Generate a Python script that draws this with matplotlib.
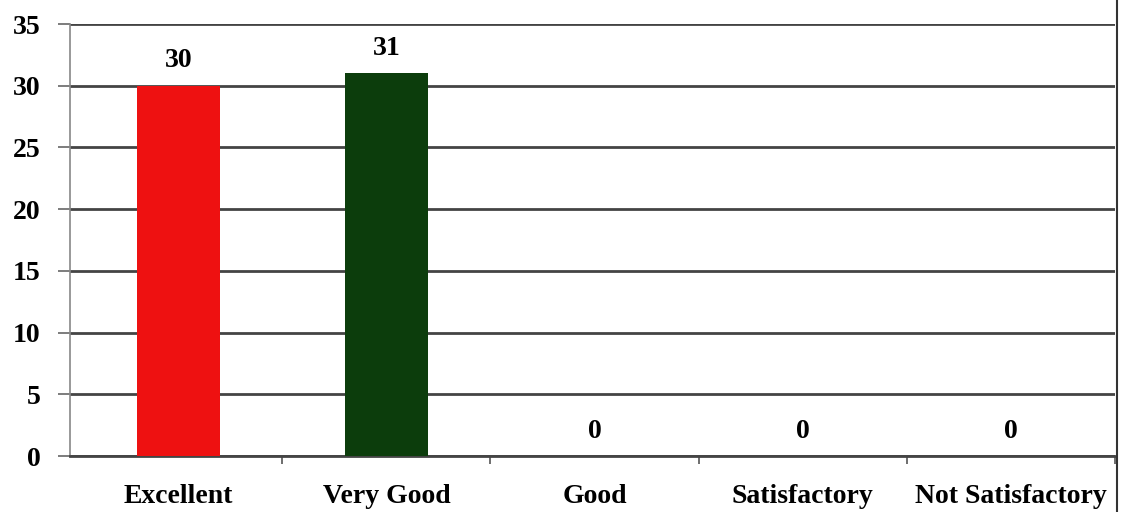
import matplotlib
matplotlib.use("Agg")
import matplotlib.pyplot as plt
from matplotlib.lines import Line2D

plt.rcParams['font.family'] = 'Liberation Serif'
plt.rcParams['font.weight'] = 'bold'

categories = ["Excellent", "Very Good", "Good", "Satisfactory", "Not Satisfactory"]
counts = [30, 31, 0, 0, 0]
bar_colors = ["#ee1111", "#0c3d0c", "#888888", "#888888", "#888888"]
y_ticks = [0, 5, 10, 15, 20, 25, 30, 35]

fig = plt.figure(figsize=(11.28, 5.12), dpi=100)
ax = fig.add_axes([70 / 1128, 1 - 456 / 512, (1115 - 70) / 1128, (456 - 24) / 512])

x = range(len(categories))
bars = ax.bar(x, counts, width=0.4, color=bar_colors, zorder=3)
ax.bar_label(bars, padding=9, fontsize=20, fontweight='bold')

ax.set_xlim(-0.52, len(categories) - 0.5)
ax.set_ylim(0, 35)
ax.set_yticks(y_ticks)
ax.set_yticklabels([str(t) for t in y_ticks], fontsize=20, fontweight='bold')
ax.yaxis.grid(True, color='#444444', linewidth=2.0, zorder=0)
ax.tick_params(axis='y', length=9, width=1.2, color='#666666', pad=12)

# category ticks sit between groups
ax.set_xticks(x)
ax.set_xticklabels(categories, fontsize=20, fontweight='bold')
ax.set_xticks([i + 0.5 for i in x], minor=True)
ax.tick_params(axis='x', which='major', length=0, pad=20)
ax.tick_params(axis='x', which='minor', length=6, width=1.2, color='#555555')

for side in ['top', 'right']:
    ax.spines[side].set_visible(False)
ax.spines['left'].set_color('#888888')
ax.spines['left'].set_linewidth(1.2)
ax.spines['bottom'].set_color('#444444')
ax.spines['bottom'].set_linewidth(2.0)

# border line on the right
fig.add_artist(Line2D([1117 / 1128, 1117 / 1128], [0, 1], color='#333333', linewidth=1.5))

fig.savefig("out.png", dpi=100)
